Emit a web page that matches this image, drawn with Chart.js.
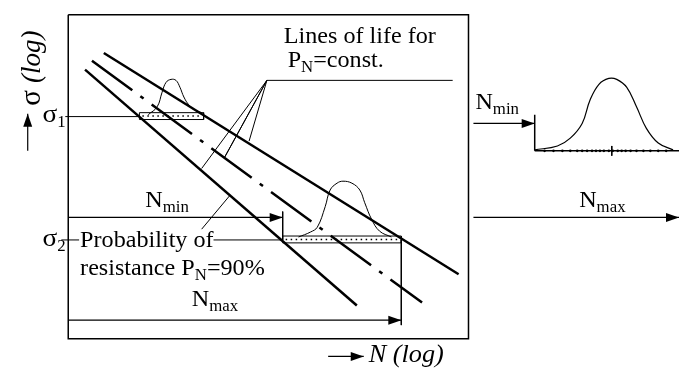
<!DOCTYPE html>
<html lang="en">
<head>
  <meta charset="UTF-8">
  <title>Lines of life</title>
  <style>
    html, body { margin: 0; padding: 0; background: #fff; }
    canvas { display: block; }
  </style>
</head>
<body>
  <canvas id="grafica" width="683" height="381"></canvas>
  <script src="https://cdn.jsdelivr.net/npm/chart.js"></script>
  <script>
    // Diagram data, in the drawing's own units (x: log N, y: log sigma, top-down)
    const frameBox = [[65, 11], [470, 11], [470, 342], [65, 342], [65, 11]];

    // three lines of life (upper, mean dash-dot, lower)
    const lifeUpper = [[101, 50], [460, 276]];
    const lifeMean = [[89, 58], [423, 305]];
    const lifeLower = [[82, 67], [357, 308]];

    // stress level sigma1
    const sigma1Line = [[62, 115], [137, 115]];
    const sigma1Box = [[137, 111], [202, 111], [202, 118], [137, 118], [137, 111]];
    const sigma1Dots = [[140, 114.5], [200, 114.5]];
    const sigma1Bell = [[146, 113], [155, 105], [160, 90], [164, 80], [169, 77], [174, 78],
      [178, 85], [182, 95], [187, 103], [193, 108], [200, 111]];

    // stress level sigma2
    const sigma2LineA = [[58, 241], [76, 241]];
    const sigma2LineB = [[212, 241], [282, 241]];
    const sigma2Box = [[282, 237], [402, 237], [402, 244], [282, 244], [282, 237]];
    const sigma2Dots = [[285, 240.5], [400, 240.5]];
    const sigma2Bell = [[298, 238], [310, 233], [317, 228], [325, 207], [330, 190], [337, 183],
      [343, 181], [352, 183], [360, 190], [365, 203], [372, 220], [380, 232], [392, 238]];

    // N limits
    const nMinTick = [[282, 212], [282, 241]];
    const nMaxTick = [[402, 241], [402, 328]];

    // leader lines
    const leaderTop = [[266, 78], [454, 78]];
    const leaderFan = [[200, 168], [266, 78], [223, 157], [266, 78], [248, 140]];
    const leaderProb = [[200, 230], [229, 195]];

    // inset distribution
    const insetWall = [[537, 113], [537, 150]];
    const insetBase = [[537, 150], [683, 150]];
    const insetTick = [[615, 145], [615, 155]];
    const insetBell = [[537, 149], [560, 145], [573, 137], [585, 122], [593, 98], [602, 82],
      [612, 76], [620, 77], [630, 85], [640, 105], [650, 127], [662, 142], [677, 149]];
    const insetDotX = [547, 556, 565, 573, 580, 585, 590, 595, 599, 603, 607, 612, 616, 621,
      625, 629, 634, 640, 647, 654, 662, 670];

    // arrows: [from, to]
    const arrows = [
      [[65, 218], [282, 218]],
      [[65, 323], [402, 323]],
      [[475, 122], [537, 122]],
      [[475, 218], [683, 218]],
      [[24, 150], [24, 112]],
      [[328, 360], [364, 360]]
    ];

    // texts: parts are [text, isSubscript]
    const labels = [
      { at: [283, 40], parts: [["Lines of life for"]] },
      { at: [287, 64], parts: [["P"], ["N", 1], ["=const."]] },
      { at: [39, 121], parts: [["σ"], ["1", 1]], size: 26 },
      { at: [39, 247], parts: [["σ"], ["2", 1]], size: 26 },
      { at: [77, 248], parts: [["Probability of"]] },
      { at: [77, 277], parts: [["resistance P"], ["N", 1], ["=90%"]] },
      { at: [143, 207], parts: [["N"], ["min", 1]] },
      { at: [190, 308], parts: [["N"], ["max", 1]] },
      { at: [477, 107], parts: [["N"], ["min", 1]] },
      { at: [582, 207], parts: [["N"], ["max", 1]] },
      { at: [369, 366], parts: [["N (log)"]], italic: true, size: 25 }
    ];
    const yLabelAt = [36, 104];

    const punto = p => ({ x: p[0], y: p[1] });

    function linea(puntos, ancho, extra) {
      return Object.assign({
        data: puntos.map(punto),
        showLine: true,
        pointRadius: 0,
        borderColor: "#000",
        backgroundColor: "#000",
        borderWidth: ancho,
        fill: false,
        tension: 0
      }, extra || {});
    }

    const datasets = [
      linea(frameBox, 1.5),
      linea(lifeUpper, 2.5),
      linea(lifeMean, 2.5, { borderDash: [50, 10, 4, 10] }),
      linea(lifeLower, 2.5),
      linea(sigma1Line, 1),
      linea(sigma1Box, 1),
      linea(sigma1Dots, 1.5, { borderDash: [1.5, 3.5] }),
      linea(sigma1Bell, 1, { tension: 0.4 }),
      linea(sigma2LineA, 1),
      linea(sigma2LineB, 1),
      linea(sigma2Box, 1),
      linea(sigma2Dots, 1.5, { borderDash: [1.5, 3.5] }),
      linea(sigma2Bell, 1, { tension: 0.4 }),
      linea(nMinTick, 1),
      linea(nMaxTick, 1),
      linea(leaderTop, 1),
      linea(leaderFan, 1),
      linea(leaderProb, 1),
      linea(insetWall, 1.5),
      linea(insetBase, 1.5),
      linea(insetTick, 1),
      linea(insetBell, 1.2, { tension: 0.4 }),
      {
        data: insetDotX.map(x => ({ x: x, y: 150 })),
        showLine: false,
        pointRadius: 1.3,
        pointBorderWidth: 0,
        pointBackgroundColor: "#000"
      }
    ];
    arrows.forEach(a => datasets.push(linea(a, 1.2)));

    // arrowheads and texts, placed through the chart scales
    const anotaciones = {
      id: "anotaciones",
      afterDatasetsDraw(chart) {
        const ctx = chart.ctx;
        const sx = chart.scales.x, sy = chart.scales.y;
        const px = p => [sx.getPixelForValue(p[0]), sy.getPixelForValue(p[1])];

        ctx.save();
        ctx.fillStyle = "#000";
        arrows.forEach(a => {
          const [x0, y0] = px(a[0]);
          const [x1, y1] = px(a[1]);
          const ang = Math.atan2(y1 - y0, x1 - x0);
          ctx.save();
          ctx.translate(x1, y1);
          ctx.rotate(ang);
          ctx.beginPath();
          ctx.moveTo(0, 0);
          ctx.lineTo(-13, -4.5);
          ctx.lineTo(-13, 4.5);
          ctx.closePath();
          ctx.fill();
          ctx.restore();
        });

        labels.forEach(l => {
          const base = l.size || 23, sub = Math.min(16, Math.round(base * 0.7));
          let [x, y] = px(l.at);
          ctx.save();
          ctx.translate(x, y);
          ctx.scale(1.05, 1);
          let cx = 0;
          l.parts.forEach(p => {
            const s = p[1] ? sub : base;
            ctx.font = (l.italic ? "italic " : "") + s + "px 'Liberation Serif', serif";
            ctx.textBaseline = "alphabetic";
            ctx.fillText(p[0], cx, p[1] ? 5 : 0);
            cx += ctx.measureText(p[0]).width;
          });
          ctx.restore();
        });

        // vertical axis title
        const [yx, yy] = px(yLabelAt);
        ctx.save();
        ctx.translate(yx, yy);
        ctx.rotate(-Math.PI / 2);
        ctx.font = "29px 'Liberation Serif', serif";
        ctx.fillText("σ ", 0, 0);
        const w = ctx.measureText("σ ").width;
        ctx.font = "italic 27px 'Liberation Serif', serif";
        ctx.fillText("(log)", w, 0);
        ctx.restore();
        ctx.restore();
      }
    };

    new Chart(document.getElementById("grafica").getContext("2d"), {
      type: "scatter",
      data: { datasets: datasets },
      options: {
        responsive: false,
        animation: false,
        events: [],
        devicePixelRatio: 1,
        layout: { padding: 0 },
        plugins: { legend: { display: false }, tooltip: { enabled: false } },
        scales: {
          x: { type: "linear", min: 0, max: 683, display: false },
          y: { type: "linear", min: 0, max: 381, reverse: true, display: false }
        }
      },
      plugins: [anotaciones]
    });
  </script>
</body>
</html>
